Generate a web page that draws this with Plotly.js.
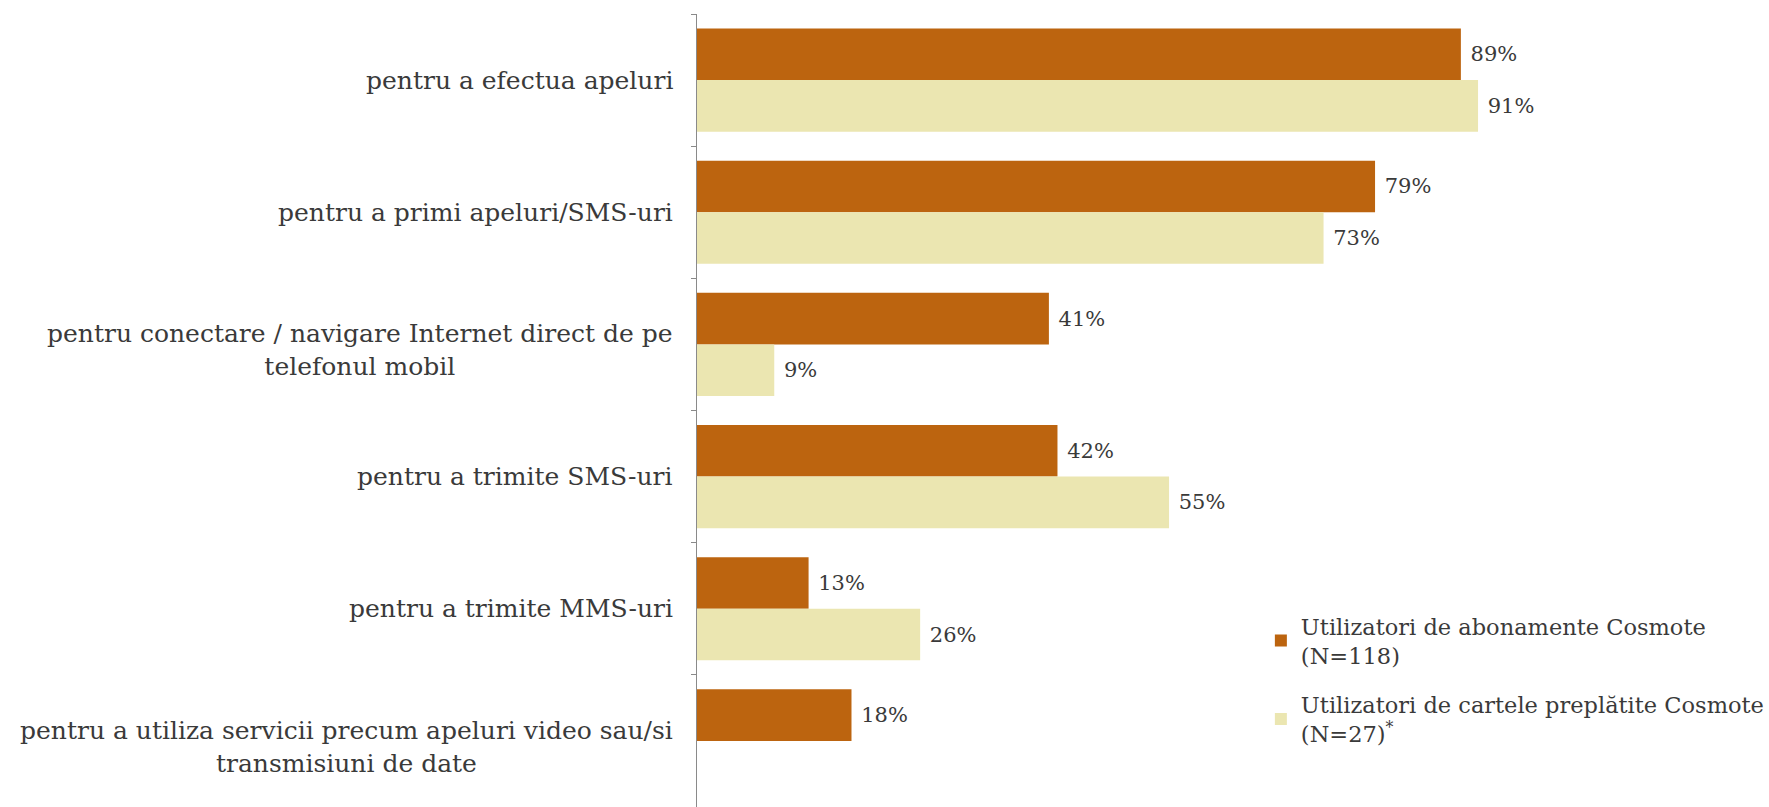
<!DOCTYPE html>
<html><head><meta charset="utf-8">
<script src="https://cdn.plot.ly/plotly-3.0.1.min.js"></script>
<style>html,body{margin:0;padding:0;background:#fff;}</style>
</head><body>
<div id="chart" style="width:1769px;height:807px;"></div>
<script>
const categories = [
  "pentru a efectua apeluri",
  "pentru a primi apeluri/SMS-uri",
  "pentru conectare / navigare Internet direct de pe<br>telefonul mobil",
  "pentru a trimite SMS-uri",
  "pentru a trimite MMS-uri",
  "pentru a utiliza servicii precum apeluri video sau/si<br>transmisiuni de date"
];
const abonamente = [89, 79, 41, 42, 13, 18];
const cartele = [91, 73, 9, 55, 26, null];
const seriesNames = [
  "Utilizatori de abonamente Cosmote<br>(N=118)",
  "Utilizatori de cartele preplătite Cosmote<br>(N=27)<sup>*</sup>"
];

const FONT = "DejaVu Serif";
const textColor = "#3a3a3a";

const traces = [
  {type:"bar", orientation:"h", name:seriesNames[0], y:categories, x:abonamente,
   marker:{color:"#BC640F"}, text:abonamente.map(v=>v==null?"":"\u00a0"+v+"%"),
   texttemplate:"%{text}", textposition:"outside", cliponaxis:false,
   textfont:{family:FONT, size:21, color:textColor}, legendgroup:"a", hoverinfo:"skip"},
  {type:"bar", orientation:"h", name:seriesNames[1], y:categories, x:cartele,
   marker:{color:"#EBE6B1"}, text:cartele.map(v=>v==null?"":"\u00a0"+v+"%"),
   texttemplate:"%{text}", textposition:"outside", cliponaxis:false,
   textfont:{family:FONT, size:21, color:textColor}, legendgroup:"b", hoverinfo:"skip"}
];

const annotations = categories.map(c => ({
  xref:"x", yref:"y", x:0, y:c, text:c, showarrow:false,
  xanchor:"right", yanchor:"middle", align:"center", xshift:-22,
  yshift: c.indexOf("<br>") >= 0 ? -6 : 0,
  font:{family:FONT, size:25, color:textColor}
}));

const layout = {
  width:1769, height:807,
  margin:{l:697, r:0, t:14, b:0},
  paper_bgcolor:"#fff", plot_bgcolor:"#fff",
  barmode:"group", bargap:0.22, bargroupgap:0,
  showlegend:true,
  legend:{x:0.526, y:0.255, xanchor:"left", yanchor:"top",
          font:{family:FONT, size:22.5, color:textColor},
          traceorder:"grouped", tracegroupgap:17, itemwidth:30,
          bgcolor:"rgba(0,0,0,0)"},
  xaxis:{range:[0,124.9], showgrid:false, zeroline:false, showticklabels:false,
         showline:false, ticks:""},
  yaxis:{type:"category", autorange:"reversed", showgrid:false, zeroline:false,
         showline:true, linecolor:"#8a8a8a", linewidth:1,
         ticks:"outside", tickson:"boundaries", ticklen:5, tickcolor:"#8a8a8a",
         showticklabels:false},
  annotations:annotations
};

Plotly.newPlot("chart", traces, layout, {displayModeBar:false, staticPlot:true});
</script>
</body></html>
